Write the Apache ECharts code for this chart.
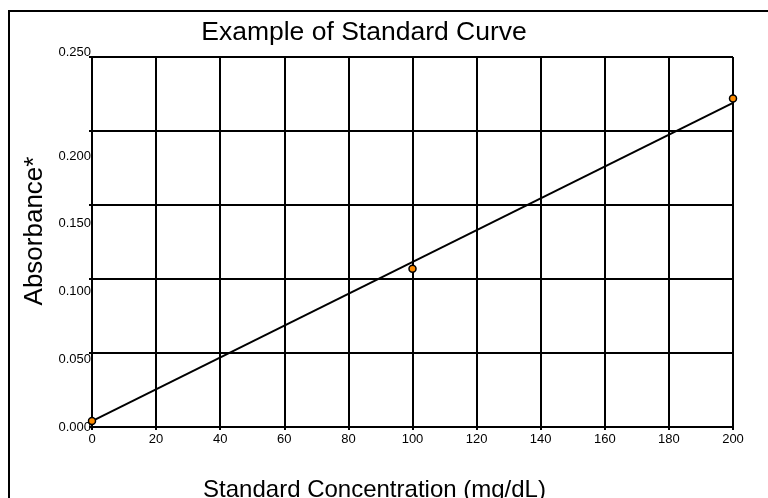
<!DOCTYPE html>
<html>
<head>
<meta charset="utf-8">
<script src="https://cdn.jsdelivr.net/npm/echarts@6/dist/echarts.min.js"></script>
<style>html,body{margin:0;padding:0;background:#fff;}#c{width:768px;height:498px;}</style>
</head>
<body>
<div id="c"></div>
<script>
const concentrations = [0, 100, 200];
const absorbance = [0.004, 0.107, 0.222];
const fitX = [0, 200];
const fitY = [0.004, 0.219];
const xTicks = [0, 20, 40, 60, 80, 100, 120, 140, 160, 180, 200];
const yTicks = ['0.000', '0.050', '0.100', '0.150', '0.200', '0.250'];

// vertical label shifts (px) seen in the reference's y labels
const yLabelShift = [0, 6, 12, 18, 25, -5];
const yRich = {};
yLabelShift.forEach((d, i) => {
  yRich['l' + i] = {
    fontFamily: "'Liberation Sans', Arial, sans-serif", fontSize: 13, color: '#000',
    padding: d >= 0 ? [2 * d, 0, 0, 0] : [0, 0, -2 * d, 0]
  };
});

const font = "'Liberation Sans', Arial, sans-serif";
const chart = echarts.init(document.getElementById('c'), null, {renderer: 'canvas'});
chart.setOption({
  animation: false,
  backgroundColor: '#fff',
  title: {
    text: 'Example of Standard Curve',
    left: 359, top: 14, textAlign: 'center',
    textStyle: {fontFamily: font, fontSize: 26.5, fontWeight: 'normal', color: '#000'}
  },
  graphic: [{
    type: 'rect', shape: {x: 9, y: 11, width: 780, height: 500},
    style: {fill: 'none', stroke: '#000', lineWidth: 2}, silent: true, z: -1
  }],
  grid: {left: 92, right: 35, top: 57, bottom: 71, containLabel: false, outerBoundsMode: 'none'},
  xAxis: {
    type: 'value', min: 0, max: 200, interval: 20,
    name: 'Standard Concentration (mg/dL)', nameLocation: 'middle', nameGap: 51,
    nameTextStyle: {fontFamily: font, fontSize: 24, color: '#000', padding: [0, 76, 0, 0]},
    axisLine: {show: true, lineStyle: {color: '#000', width: 2}},
    axisTick: {show: true, length: 3, lineStyle: {color: '#000', width: 2}},
    axisLabel: {fontFamily: font, fontSize: 13, color: '#000', margin: 6,
      formatter: v => xTicks.includes(v) ? String(v) : ''},
    splitLine: {show: true, lineStyle: {color: '#000', width: 2}}
  },
  yAxis: {
    type: 'value', min: 0, max: 0.25, interval: 0.05,
    name: 'Absorbance*', nameLocation: 'middle', nameGap: 37, nameRotate: 90,
    nameTextStyle: {fontFamily: font, fontSize: 26, color: '#000', padding: [0, 0, 0, 22]},
    axisLine: {show: true, lineStyle: {color: '#000', width: 2}},
    axisTick: {show: true, length: 3, lineStyle: {color: '#000', width: 2}},
    axisLabel: {fontFamily: font, fontSize: 13, color: '#000', margin: 1,
      formatter: v => { const i = Math.round(v / 0.05); return yTicks[i] ? '{l' + i + '|' + yTicks[i] + '}' : ''; },
      rich: yRich},
    splitLine: {show: true, lineStyle: {color: '#000', width: 2}}
  },
  series: [{
    type: 'line',
    data: fitX.map((x, i) => [x, fitY[i]]),
    symbol: 'none',
    lineStyle: {color: '#000', width: 2},
    z: 3
  }, {
    type: 'scatter',
    data: concentrations.map((x, i) => [x, absorbance[i]]),
    symbol: 'circle', symbolSize: 7,
    itemStyle: {color: '#ff8c00', borderColor: '#000', borderWidth: 1.5, opacity: 1},
    z: 4
  }]
});
</script>
</body>
</html>
